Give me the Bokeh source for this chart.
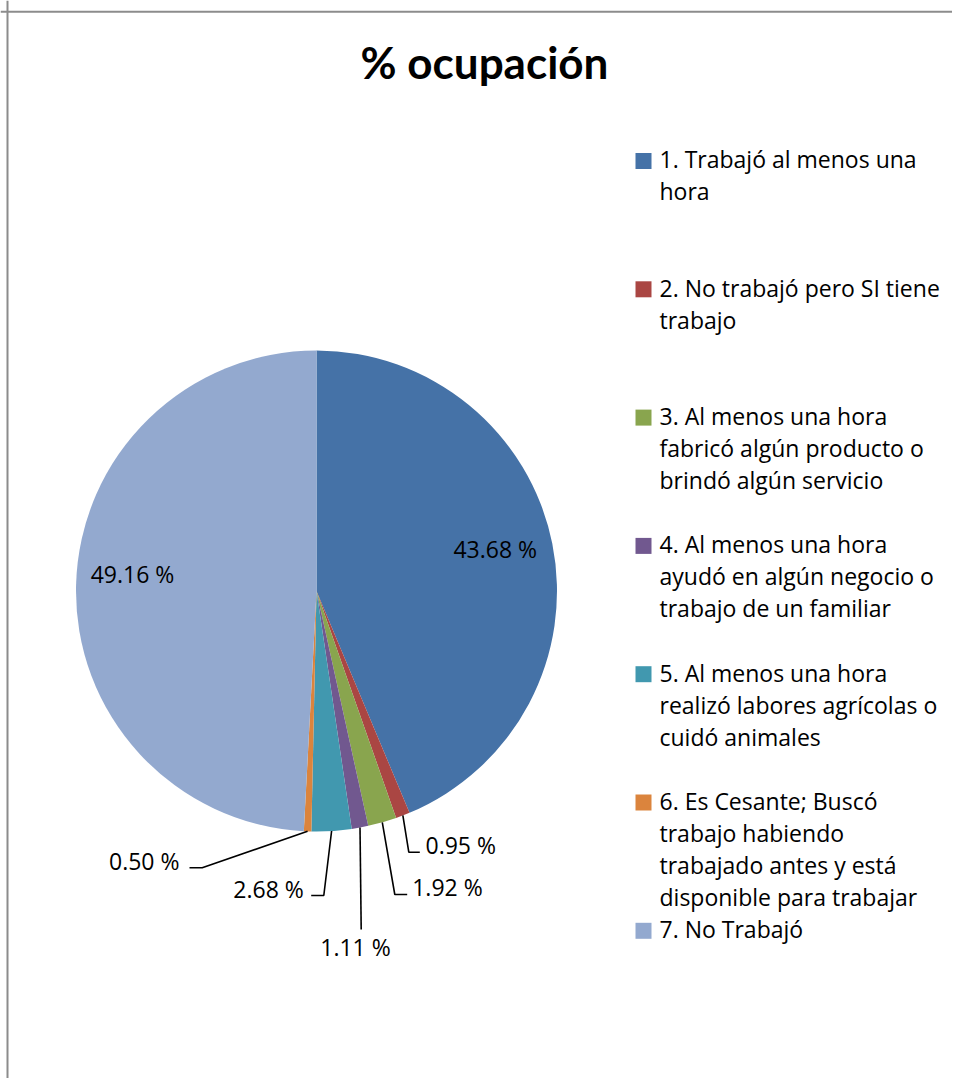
import math
from bokeh.plotting import figure
from bokeh.models import Range1d, Span
from bokeh.core.properties import value
from bokeh.embed import file_html
from bokeh.resources import INLINE

# ---- data ----
title = "% ocupación"
categories = [
    "1. Trabajó al menos una\nhora",
    "2. No trabajó pero SI tiene\ntrabajo",
    "3. Al menos una hora\nfabricó algún producto o\nbrindó algún servicio",
    "4. Al menos una hora\nayudó en algún negocio o\ntrabajo de un familiar",
    "5. Al menos una hora\nrealizó labores agrícolas o\ncuidó animales",
    "6. Es Cesante; Buscó\ntrabajo habiendo\ntrabajado antes y está\ndisponible para trabajar",
    "7. No Trabajó",
]
percent = [43.68, 0.95, 1.92, 1.11, 2.68, 0.50, 49.16]
colors = ["#4572A7", "#AA4643", "#89A54E", "#71588F", "#4198AF", "#DB843D", "#93A9CF"]

# ---- layout (page pixel coordinates) ----
W, H = 952, 1078
def fx(px): return px
def fy(py): return H - py

CX, CY, R = 316, 590.5, 240.5
FONT = value("Open Sans")
TFONT = value("Lato")
TXT_SHIFT = 9.5     # empirical baseline correction for body text
TTL_SHIFT = 14.0    # empirical baseline correction for title

# label layout: (x, baseline y, align, leader elbow, leader end) ; None = inside
label_layout = [
    (494.7, 558.3, "center", None, None),
    (425.0, 853.5, "left", (408.3, 851.7), (419.3, 851.7)),
    (411.7, 895.5, "left", (394.3, 894.0), (406.7, 894.0)),
    (355.0, 956.0, "center", (360.7, 929.0), (360.7, 929.0)),
    (303.3, 897.5, "right", (323.3, 895.0), (310.7, 895.0)),
    (179.0, 869.5, "right", (201.7, 867.3), (189.0, 867.3)),
    (132.0, 583.3, "center", None, None),
]

p = figure(width=W, height=H, output_backend="svg", toolbar_location=None,
           x_range=Range1d(0, W), y_range=Range1d(0, H), min_border=0)
p.axis.visible = False
p.grid.visible = False
p.outline_line_color = None
p.background_fill_color = "white"
p.border_fill_color = "white"

# frame
p.add_layout(Span(location=7, dimension="height", line_color="#8c8c8c", line_width=2))
p.add_layout(Span(location=fy(11.3), dimension="width", line_color="#8c8c8c", line_width=2))

# pie
total = sum(percent)
cum = 0.0
starts, ends, mids = [], [], []
for v in percent:
    a = cum / total
    cum += v
    b = cum / total
    starts.append(math.pi / 2 - 2 * math.pi * a)
    ends.append(math.pi / 2 - 2 * math.pi * b)
    mids.append((a + b) / 2)

p.wedge(x=fx(CX), y=fy(CY), radius=R, start_angle=starts, end_angle=ends,
        direction="clock", fill_color=colors, line_color=None)

# labels and leader lines
for v, m, (lx, ly, al, elbow, end) in zip(percent, mids, label_layout):
    txt = f"{v:.2f} %"
    p.text(x=[fx(lx)], y=[fy(ly - TXT_SHIFT)], text=[txt], text_font=FONT, text_font_size="23px",
           text_align=al, text_baseline="alphabetic", text_color="black")
    if elbow is not None:
        ang = 2 * math.pi * m
        sx = CX + R * math.sin(ang)
        sy = CY - R * math.cos(ang)
        xs = [fx(sx), fx(elbow[0]), fx(end[0])]
        ys = [fy(sy), fy(elbow[1]), fy(end[1])]
        p.line(xs, ys, line_color="black", line_width=1.6)

# title
p.text(x=[fx(484)], y=[fy(75 - TTL_SHIFT)], text=[title], text_font=TFONT, text_font_size="44px",
       text_font_style="bold", text_align="center", text_baseline="alphabetic", text_color="black")

# legend
LEG_PITCH, LINE_H = 128.3, 32
for i, (cat, c) in enumerate(zip(categories, colors)):
    base = 168.3 + LEG_PITCH * i
    p.rect(x=[fx(643)], y=[fy(base - 7.8)], width=16, height=16, fill_color=c, line_color=None)
    for j, line in enumerate(cat.split("\n")):
        p.text(x=[fx(659)], y=[fy(base + LINE_H * j - TXT_SHIFT)], text=[line], text_font=FONT,
               text_font_size="23px", text_align="left", text_baseline="alphabetic",
               text_color="black")

open("out.html", "w").write(file_html(p, INLINE))
